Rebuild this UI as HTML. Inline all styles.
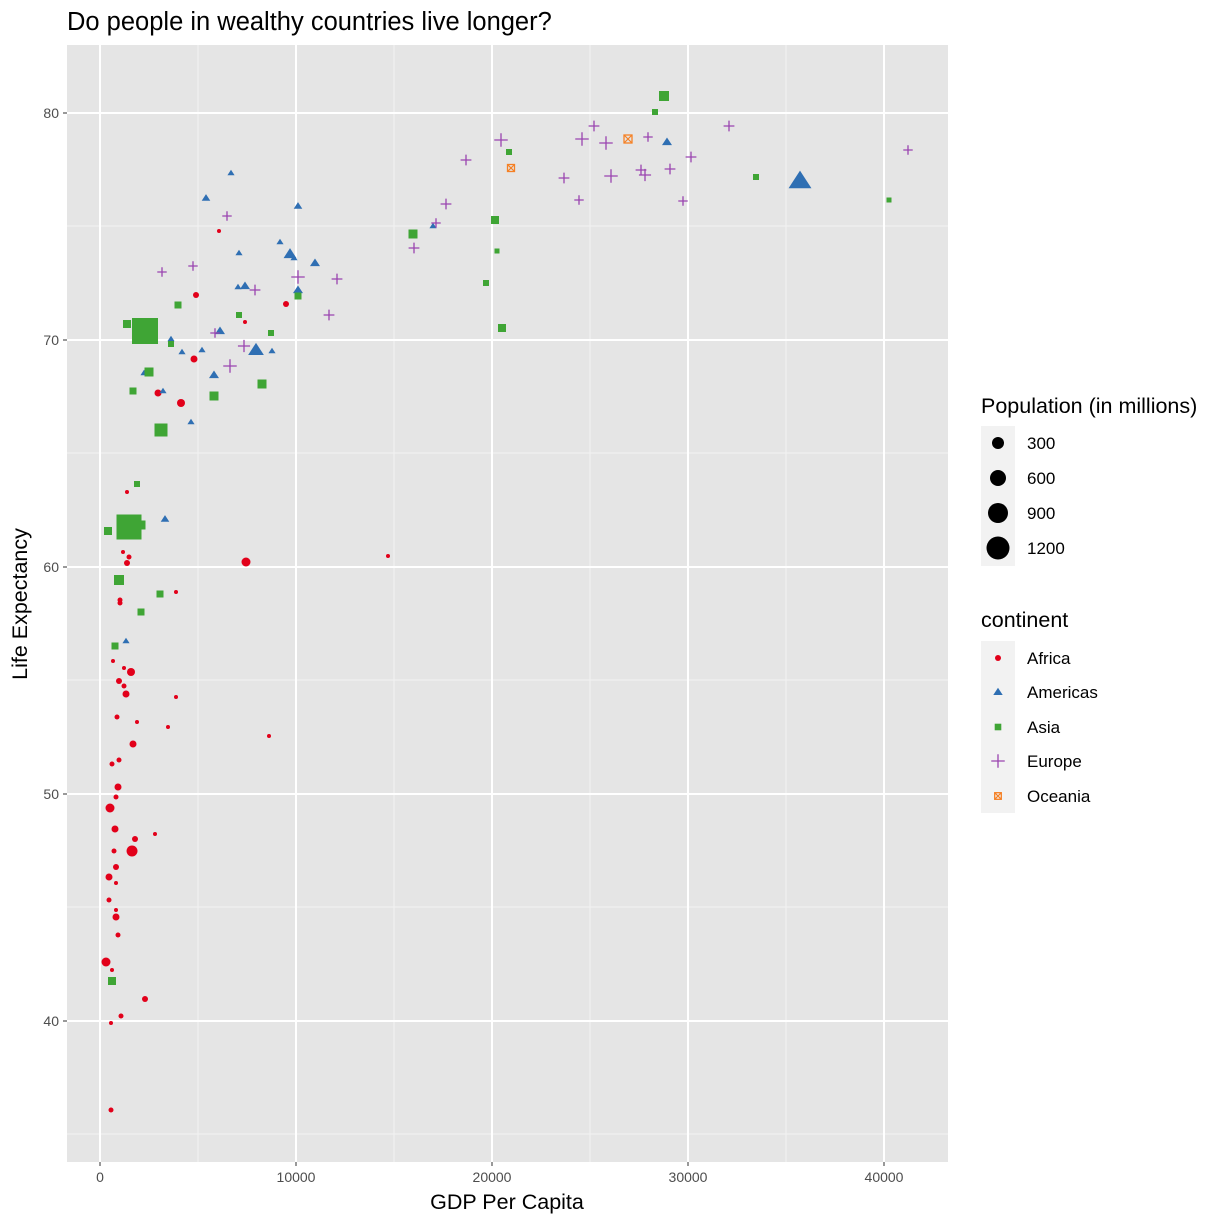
<!DOCTYPE html>
<html><head><meta charset="utf-8"><style>
body{margin:0;background:#fff;}
svg text{font-family:"Liberation Sans",Arial,sans-serif;}
</style></head><body>
<svg id="s" width="1224" height="1224" xmlns="http://www.w3.org/2000/svg">
<rect width="1224" height="1224" fill="#fff"/>
<rect x="67" y="45" width="881" height="1117" fill="#e5e5e5"/>
<g stroke="#f2f2f2" stroke-width="1">
<line x1="198" y1="45" x2="198" y2="1162"/><line x1="394" y1="45" x2="394" y2="1162"/><line x1="590" y1="45" x2="590" y2="1162"/><line x1="786" y1="45" x2="786" y2="1162"/>
<line x1="67" y1="226" x2="948" y2="226"/><line x1="67" y1="453" x2="948" y2="453"/><line x1="67" y1="680" x2="948" y2="680"/><line x1="67" y1="907" x2="948" y2="907"/><line x1="67" y1="1134" x2="948" y2="1134"/>
</g>
<g stroke="#fff" stroke-width="2">
<line x1="100" y1="45" x2="100" y2="1162"/><line x1="296" y1="45" x2="296" y2="1162"/><line x1="492" y1="45" x2="492" y2="1162"/><line x1="688" y1="45" x2="688" y2="1162"/><line x1="884" y1="45" x2="884" y2="1162"/>
<line x1="67" y1="113" x2="948" y2="113"/><line x1="67" y1="340" x2="948" y2="340"/><line x1="67" y1="567" x2="948" y2="567"/><line x1="67" y1="794" x2="948" y2="794"/><line x1="67" y1="1021" x2="948" y2="1021"/>
</g>
<g stroke="#333" stroke-width="1">
<line x1="100" y1="1162" x2="100" y2="1166"/><line x1="296" y1="1162" x2="296" y2="1166"/><line x1="492" y1="1162" x2="492" y2="1166"/><line x1="688" y1="1162" x2="688" y2="1166"/><line x1="884" y1="1162" x2="884" y2="1166"/>
<line x1="63" y1="113" x2="67" y2="113"/><line x1="63" y1="340" x2="67" y2="340"/><line x1="63" y1="567" x2="67" y2="567"/><line x1="63" y1="794" x2="67" y2="794"/><line x1="63" y1="1021" x2="67" y2="1021"/>
</g>
<g font-size="14" fill="#4d4d4d" text-anchor="middle">
<text x="100" y="1182">0</text><text x="296" y="1182">10000</text><text x="492" y="1182">20000</text><text x="688" y="1182">30000</text><text x="884" y="1182">40000</text>
</g>
<g font-size="14" fill="#4d4d4d" text-anchor="end">
<text x="59" y="118">80</text><text x="59" y="345">70</text><text x="59" y="572">60</text><text x="59" y="799">50</text><text x="59" y="1026">40</text>
</g>
<text x="507" y="1209" font-size="21.5" text-anchor="middle">GDP Per Capita</text>
<text x="27" y="604" font-size="21.5" text-anchor="middle" transform="rotate(-90 27 604)">Life Expectancy</text>
<text x="67" y="30" font-size="25.5">Do people in wealthy countries live longer?</text>
<g id="pts"></g>
<text x="981" y="413" font-size="21.5">Population (in millions)</text>
<rect x="981" y="426" width="34" height="140" fill="#f2f2f2"/>
<circle cx="998" cy="443" r="6"/><circle cx="998" cy="478" r="8"/><circle cx="998" cy="513" r="10"/><circle cx="998" cy="548" r="11.5"/>
<g font-size="17"><text x="1027" y="449">300</text><text x="1027" y="484">600</text><text x="1027" y="519">900</text><text x="1027" y="554">1200</text></g>
<text x="981" y="627" font-size="21.5">continent</text>
<rect x="981" y="641" width="34" height="172" fill="#f2f2f2"/>
<g font-size="17"><text x="1027" y="664">Africa</text><text x="1027" y="698">Americas</text><text x="1027" y="733">Asia</text><text x="1027" y="767">Europe</text><text x="1027" y="802">Oceania</text></g>
<g id="leg"></g>
</svg>
<script>
const C={a:"#e2001a",m:"#2f6fb3",s:"#3fa535",e:"#9a44b0",o:"#f58025"};
function sh(t,x,y,r){
 if(t=="a")return `<circle cx="${x}" cy="${y}" r="${r}" fill="${C.a}"/>`;
 if(t=="m"){let h=r*1.3;return `<polygon points="${x},${y-h} ${x-h*1.1},${y+h*0.7} ${x+h*1.1},${y+h*0.7}" fill="${C.m}"/>`;}
 if(t=="s")return `<rect x="${x-r}" y="${y-r}" width="${2*r}" height="${2*r}" fill="${C.s}"/>`;
 if(t=="e"){let h=r*1.35;return `<path d="M${x-h} ${y}H${x+h}M${x} ${y-h}V${y+h}" stroke="${C.e}" stroke-width="1.3"/>`;}
 if(t=="o")return `<rect x="${x-r}" y="${y-r}" width="${2*r}" height="${2*r}" fill="none" stroke="${C.o}" stroke-width="1.3"/><path d="M${x-r} ${y-r}L${x+r} ${y+r}M${x+r} ${y-r}L${x-r} ${y+r}" stroke="${C.o}" stroke-width="1.2"/>`;
}
const A=[[219,231,2],[196,295,3],[286,304,3],[245,322,2],[194,359,3.5],[158,393,3.5],[181,403,4],[127,492,2],[123,552,2],[129,557,2.5],[127,563,3],[120,600,2.5],[120,603,2.5],[176,592,2],[246,562,4.5],[388,556,2],[113,661,2],[124,668,2],[131,672,4],[119,681,3],[124,686,2.5],[126,694,3.5],[176,697,2],[137,722,2],[117,717,2.5],[168,727,2],[269,736,2],[133,744,3.5],[119,760,2.5],[112,764,2.5],[118,787,3.5],[116,797,2.5],[110,808,4.5],[115,829,3.5],[155,834,2],[135,839,3],[132,851,5.5],[114,851,2.5],[116,867,3],[109,877,3.5],[116,883,2],[109,900,2.5],[116,910,2],[116,917,3.5],[118,935,2.5],[106,962,4.5],[112,970,2],[145,999,3],[121,1016,2.5],[111,1023,2],[111,1110,2.5]];
const M=[[231,173,2.5],[206,198,3],[298,206,3],[280,242,2.5],[290,254,4.5],[239,253,2.5],[294,258,2.5],[315,263,3.5],[245,286,3.5],[238,287,2.5],[298,290,3.5],[433,226,2.5],[171,339,2.5],[220,331,3.5],[202,350,2.5],[182,352,2.5],[144,373,2.5],[163,391,2.5],[214,375,3.5],[256,350,5.5],[272,351,2.5],[191,422,2.5],[165,519,3],[126,641,2.5],[800,181,8],[667,142,3.5]];
const S=[[664,96,5],[655,112,3],[509,152,3],[756,177,3],[889,200,2.5],[413,234,4.5],[495,220,4],[497,251,2.5],[486,283,3],[502,328,4],[298,296,3.5],[239,315,3],[271,333,3],[178,305,3.5],[127,324,4],[145,331,13],[171,344,3],[149,372,4.5],[133,391,3.5],[214,396,4.5],[262,384,4.5],[161,430,6.5],[137,484,3],[108,531,4],[129,527,12.5],[141,525,4.5],[119,580,5],[160,594,3.5],[141,612,3.5],[115,646,3.5],[112,981,4]];
const E=[[594,126,4],[582,139,5],[606,143,5],[501,140,5],[648,137,3.5],[729,126,4],[908,150,3.5],[691,157,4],[564,178,4],[611,176,5],[641,170,4],[645,175,4.5],[670,169,4],[579,200,3.5],[683,201,3.5],[466,160,4],[446,204,4],[436,223,3.5],[414,248,4],[227,216,3.5],[193,266,3.5],[162,272,3.5],[298,277,5],[337,279,4],[255,290,4],[329,315,4],[215,333,3.5],[244,346,4.5],[230,366,5]];
const O=[[628,139,4],[511,168,3.5]];
let h="";
for(const [t,arr] of [["a",A],["m",M],["s",S],["e",E],["o",O]])for(const p of arr)h+=sh(t,...p);
document.getElementById("pts").innerHTML=h;
document.getElementById("leg").innerHTML=sh("a",998,658,3)+sh("m",998,692,3.3)+sh("s",998,727,3.3)+sh("e",998,761,5)+sh("o",998,796,3.3);
</script>
</body></html>
